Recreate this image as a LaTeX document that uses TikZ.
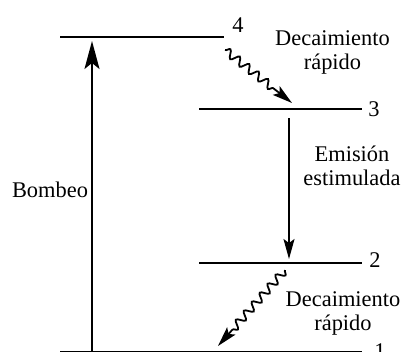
\documentclass[tikz,border=0pt]{standalone}
\usepackage{fontspec}
\setmainfont{Liberation Serif}
\usetikzlibrary{arrows.meta,decorations.pathmorphing,calc}
\begin{document}
\begin{tikzpicture}[x=1bp,y=-1bp,
  level/.style={line width=2.7bp},
  arr/.style={line width=1.8bp},
  lbl/.style={font=\fontsize{22.5}{23.5}\selectfont, align=center, inner sep=0pt},
  wavy/.style={line width=1.8bp, decorate,
     decoration={snake, segment length=12bp, amplitude=4bp}},
  bighead/.style={-{Stealth[length=28bp,width=15bp,inset=6bp]}},
  midhead/.style={-{Stealth[length=20bp,width=11bp,inset=4bp]}}
]
\useasboundingbox (0,0) rectangle (404,352);
% levels
\coordinate (l4a) at (60,37);  \coordinate (l4b) at (224,37);
\coordinate (l3a) at (199,109); \coordinate (l3b) at (362,109);
\coordinate (l2a) at (199,263); \coordinate (l2b) at (362,263);
\coordinate (l1a) at (60,352);  \coordinate (l1b) at (362,352);
\draw[level] (l4a) -- (l4b);
\draw[level] (l3a) -- (l3b);
\draw[level] (l2a) -- (l2b);
\draw[level] (l1a) -- (l1b);
\node[lbl] (n4) at (238,25) {4};
\node[lbl] (n3) at (374,109) {3};
\node[lbl] (n2) at (375,260) {2};
\node[lbl,anchor=north] (n1) at (380,343) {1};
% pump
\coordinate (pb) at (92,352);
\coordinate (pt) at (92,41);
\draw[arr,bighead] (pb) -- (pt);
\node[lbl,anchor=base] (bomb) at (50,197) {Bombeo};
% stimulated emission
\coordinate (eb) at (289,118);
\coordinate (et) at (289,259);
\draw[arr,midhead] (eb) -- (et);
\node[lbl,anchor=base] (emi) at (352,185) {Emisión\\estimulada};
% fast decays
\coordinate (d1a) at (225,50);
\coordinate (d1b) at (292,103);
\coordinate (d1c) at ($(d1b)!18bp!(d1a)$);
\draw[wavy] (d1a) -- (d1c);
\draw[arr,midhead] (d1c) -- (d1b);
\node[lbl,anchor=base] (dec1) at (332.5,69) {Decaimiento\\rápido};
\coordinate (d2a) at (285,270);
\coordinate (d2b) at (218,346);
\coordinate (d2c) at ($(d2b)!20bp!(d2a)$);
\draw[wavy] (d2a) -- (d2c);
\draw[arr,midhead] (d2c) -- (d2b);
\node[lbl,anchor=base] (dec2) at (343,330) {Decaimiento\\rápido};
\end{tikzpicture}
\end{document}
